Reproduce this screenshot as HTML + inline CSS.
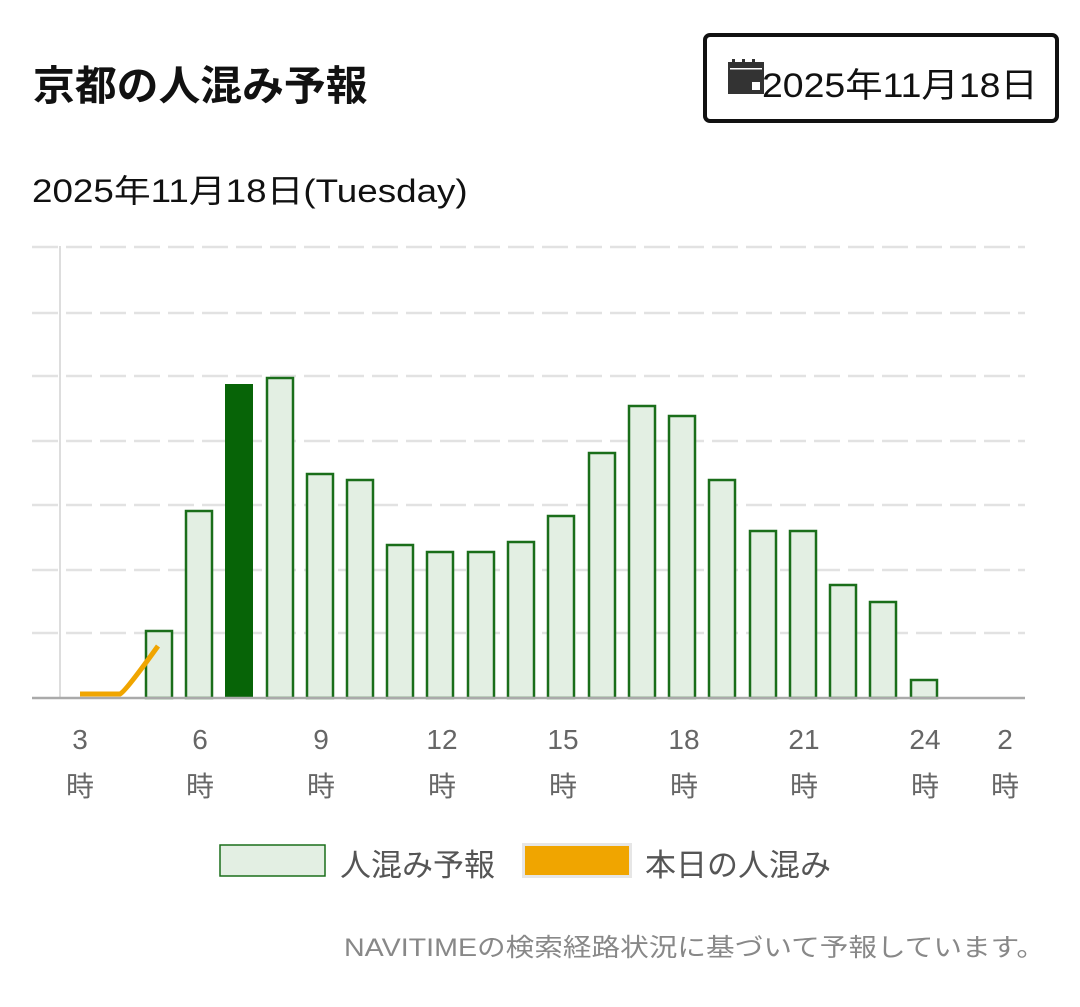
<!DOCTYPE html>
<html><head><meta charset="utf-8"><style>
body{margin:0;width:1080px;height:1007px;background:#fff;font-family:"Liberation Sans","Noto Sans CJK JP",sans-serif;position:relative;overflow:hidden}
.a{position:absolute;white-space:nowrap;transform-origin:0 0}
</style></head><body>
<div class="a" style="left:33px;top:52px;font-size:41px;font-weight:bold;color:#111;transform:scaleX(1.02)">京都の人混み予報</div>
<div class="a" style="left:703px;top:33px;width:348px;height:82px;border:4px solid #111;border-radius:7px"></div>
<div class="a" style="left:728px;top:58px;width:36px;height:36px">
<svg width="36" height="36"><rect x="0" y="4" width="36" height="32" fill="#333"/><rect x="4" y="1" width="3" height="8" fill="#333"/><rect x="14" y="1" width="3" height="8" fill="#333"/><rect x="24" y="1" width="3" height="8" fill="#333"/><rect x="2" y="10" width="32" height="1.5" fill="#fff"/><rect x="24" y="24" width="8" height="8" fill="#fff"/></svg></div>
<div class="a" style="left:762px;top:58px;font-size:34px;color:#111;transform:scaleX(1.1)">2025年11月18日</div>
<div class="a" style="left:32px;top:166px;font-size:32px;color:#111;transform:scaleX(1.15)">2025年11月18日(Tuesday)</div>
<svg class="a" style="left:0;top:0" width="1080" height="1007">
<g stroke="#e2e2e2" stroke-width="2.5" stroke-dasharray="26 8">
<line x1="32" y1="247" x2="1025" y2="247"/><line x1="32" y1="313" x2="1025" y2="313"/><line x1="32" y1="376" x2="1025" y2="376"/><line x1="32" y1="441" x2="1025" y2="441"/><line x1="32" y1="505" x2="1025" y2="505"/><line x1="32" y1="570" x2="1025" y2="570"/><line x1="32" y1="633" x2="1025" y2="633"/>
</g>
<line x1="60" y1="246" x2="60" y2="698" stroke="#ddd" stroke-width="2"/>
<g fill="#e3efe3" stroke="#1a6e1a" stroke-width="2.5">
<rect x="146" y="631" width="26" height="67"/><rect x="186" y="511" width="26" height="187"/>
<rect x="267" y="378" width="26" height="320"/><rect x="307" y="474" width="26" height="224"/><rect x="347" y="480" width="26" height="218"/><rect x="387" y="545" width="26" height="153"/><rect x="427" y="552" width="26" height="146"/><rect x="468" y="552" width="26" height="146"/><rect x="508" y="542" width="26" height="156"/><rect x="548" y="516" width="26" height="182"/><rect x="589" y="453" width="26" height="245"/><rect x="629" y="406" width="26" height="292"/><rect x="669" y="416" width="26" height="282"/><rect x="709" y="480" width="26" height="218"/><rect x="750" y="531" width="26" height="167"/><rect x="790" y="531" width="26" height="167"/><rect x="830" y="585" width="26" height="113"/><rect x="870" y="602" width="26" height="96"/><rect x="911" y="680" width="26" height="18"/>
</g>
<rect x="225" y="384" width="28" height="314" fill="#076407"/>
<line x1="32" y1="698" x2="1025" y2="698" stroke="#aaa" stroke-width="2.5"/>
<path d="M80 694 L120 694 Q125 692 158 646" fill="none" stroke="#f0a500" stroke-width="5"/>
<g fill="#666" font-size="28" text-anchor="middle" font-family="Liberation Sans,Noto Sans CJK JP,sans-serif">
<text x="80" y="749">3</text><text x="80" y="796">時</text>
<text x="200" y="749">6</text><text x="200" y="796">時</text>
<text x="321" y="749">9</text><text x="321" y="796">時</text>
<text x="442" y="749">12</text><text x="442" y="796">時</text>
<text x="563" y="749">15</text><text x="563" y="796">時</text>
<text x="684" y="749">18</text><text x="684" y="796">時</text>
<text x="804" y="749">21</text><text x="804" y="796">時</text>
<text x="925" y="749">24</text><text x="925" y="796">時</text>
<text x="1005" y="749">2</text><text x="1005" y="796">時</text>
</g>
<rect x="220" y="845" width="105" height="31" fill="#e3efe3" stroke="#1a6e1a" stroke-width="1.5"/>
<rect x="522" y="843" width="110" height="35" fill="#e6e6e6"/>
<rect x="525" y="846" width="104" height="29" fill="#f0a500"/>
</svg>
<div class="a" style="left:340px;top:840px;font-size:31px;color:#555">人混み予報</div>
<div class="a" style="left:645px;top:840px;font-size:31px;color:#555">本日の人混み</div>
<div class="a" style="left:344px;top:928px;font-size:25px;color:#888;transform:scaleX(1.145)">NAVITIMEの検索経路状況に基づいて予報しています。</div>
</body></html>
